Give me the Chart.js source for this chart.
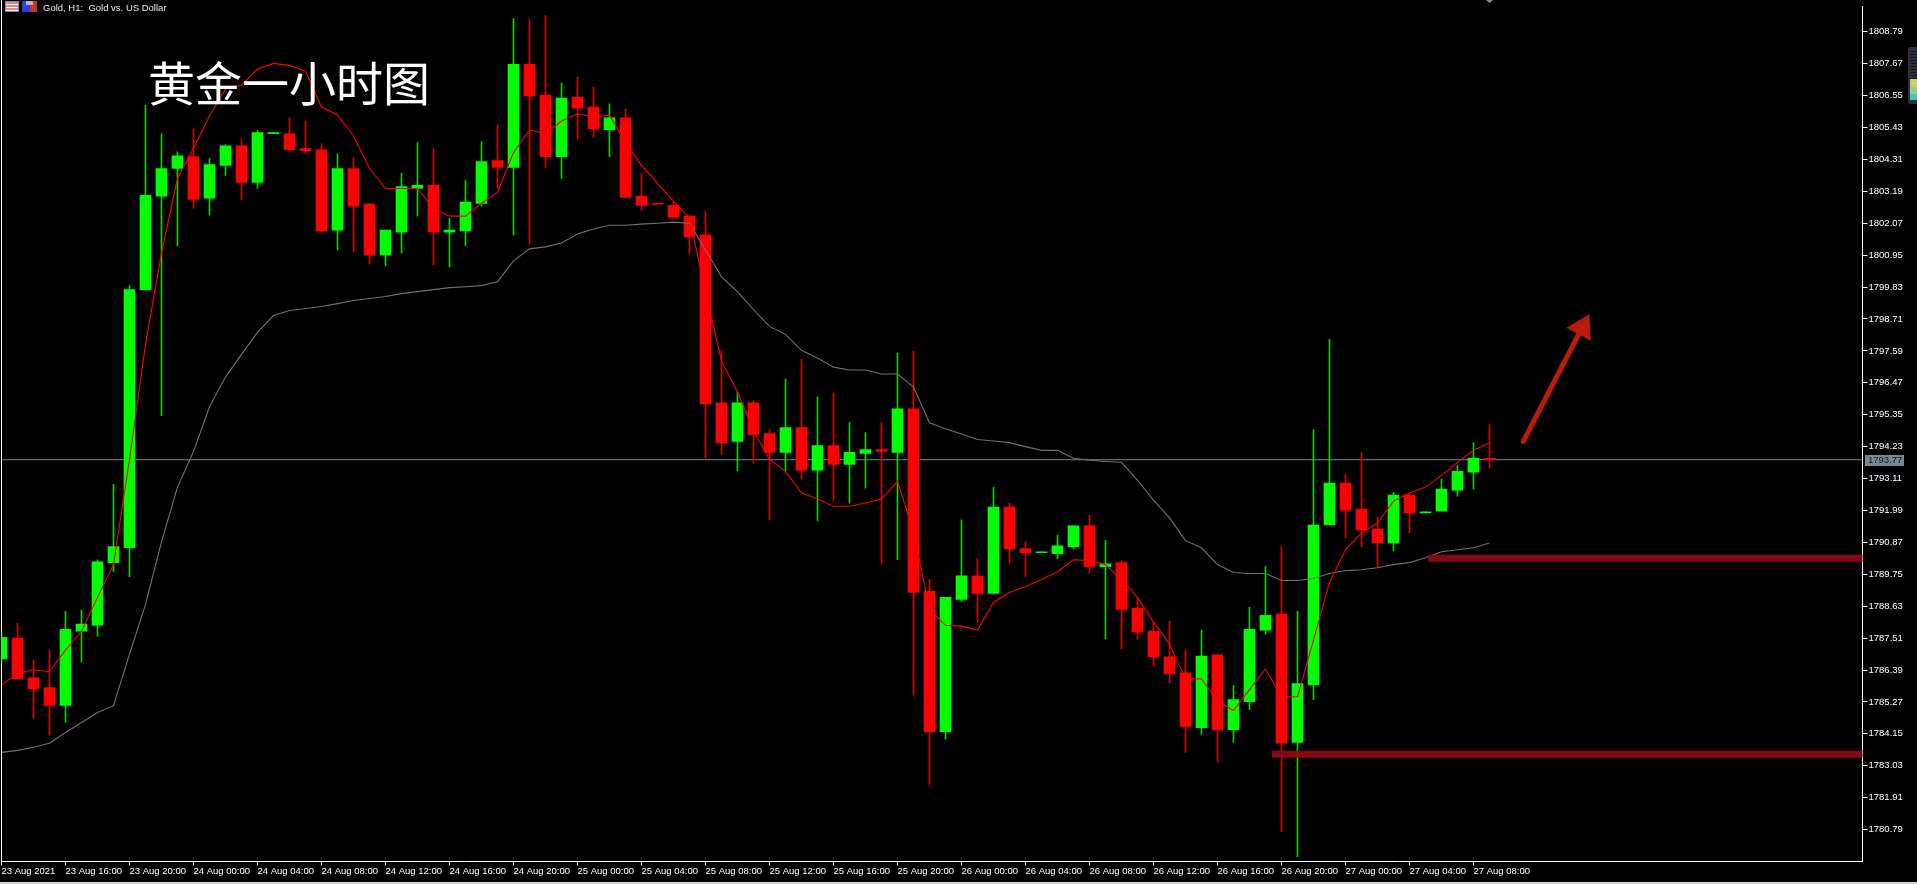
<!DOCTYPE html>
<html>
<head>
<meta charset="utf-8">
<title>Gold H1</title>
<script src="https://cdn.jsdelivr.net/npm/chart.js@4/dist/chart.umd.min.js"></script>
<style>
    html, body { margin: 0; padding: 0; background: #000; overflow: hidden; }
    #wrap { position: relative; width: 1917px; height: 884px; background: #000; }
    #chart { position: absolute; left: 0; top: 0; }
    #big-title { position: absolute; left: 148px; top: 48px; color: #fff; font: 47px/66px "Noto Sans CJK SC", sans-serif; white-space: nowrap; }
    #symbol { position: absolute; left: 43px; top: 2px; color: #e8e8e8; font: 9.5px/12px "Liberation Sans", sans-serif; white-space: pre; }
    .icon { position: absolute; top: 1px; width: 14px; height: 11px; }
    #icon-a { left: 5px; background: repeating-linear-gradient(#e08a80 0 2px, #f4f4f4 2px 3px); border: 1px solid #7d86c8; box-sizing: border-box; }
    #icon-b { left: 22px; width: 15px; background: linear-gradient(90deg, #2f3fd8 0 50%, #c8342c 50% 100%); }
    #icon-b:after { content: ""; position: absolute; left: 4px; top: 0; width: 7px; height: 4px; background: #b8b8b8; }
    #shift-mark { position: absolute; left: 1486px; top: 0; width: 7px; height: 3px; background: #8a8a8a; clip-path: polygon(0 0, 100% 0, 50% 100%); }
    #widget { position: absolute; left: 1908px; top: 47px; width: 9px; height: 57px; border-radius: 2px 0 0 2px; background: #2c303c; }
    #widget-levels { position: absolute; left: 2px; top: 4px; right: 0; height: 49px;
        background: repeating-linear-gradient(#15181f 0 1px, transparent 1px 3px); }
    #widget-meter { position: absolute; left: 2px; right: 0; top: 32px; height: 21px;
        background: linear-gradient(#c9cf6a 0 40%, #8fcf8a 40% 70%, #45c8b4 70% 100%); }
    #status-line { position: absolute; left: 0; right: 0; bottom: 0; height: 2px; background: #d4d4d4; }
</style>
</head>
<body>
<div id="wrap">
    <canvas id="chart" width="1917" height="882"></canvas>
    <div class="icon" id="icon-a"></div>
    <div class="icon" id="icon-b"></div>
    <div id="symbol">Gold, H1:  Gold vs. US Dollar</div>
    <div id="big-title">黄金一小时图</div>
    <div id="shift-mark"></div>
    <div id="widget"><div id="widget-levels"></div><div id="widget-meter"></div></div>
    <div id="status-line"></div>
</div>
<script>
const openPrices = [
    1786.78, 1787.51, 1786.12, 1785.77, 1785.15, 1787.75, 1787.96, 1790.16, 1790.68, 1799.74,
    1803.02, 1803.99, 1804.41, 1802.95, 1804.10, 1804.79, 1803.50, 1805.21, 1805.21, 1804.69,
    1804.65, 1801.83, 1803.99, 1802.74, 1800.96, 1801.76, 1803.29, 1803.40, 1801.76, 1801.80,
    1802.77, 1804.27, 1804.03, 1807.65, 1806.57, 1804.41, 1806.50, 1806.15, 1805.35, 1805.77,
    1803.02, 1802.77, 1802.70, 1802.32, 1801.66, 1795.77, 1794.41, 1795.77, 1794.69, 1794.03,
    1794.90, 1793.40, 1794.27, 1793.61, 1793.99, 1794.13, 1794.03, 1795.56, 1789.15, 1784.23,
    1788.87, 1789.70, 1789.08, 1792.11, 1790.65, 1790.51, 1790.47, 1790.72, 1791.45, 1790.02,
    1790.16, 1788.56, 1787.75, 1786.85, 1786.29, 1784.37, 1786.92, 1784.30, 1785.28, 1787.79,
    1788.35, 1783.85, 1785.87, 1791.48, 1792.95, 1792.04, 1791.34, 1790.85, 1792.53, 1791.90,
    1791.97, 1792.70, 1793.33, 1793.82
];
const highPrices = [
    1787.72, 1788.03, 1786.74, 1787.09, 1788.45, 1788.49, 1790.26, 1792.91, 1799.88, 1806.22,
    1805.21, 1804.58, 1805.38, 1804.34, 1804.83, 1805.04, 1805.32, 1805.25, 1805.77, 1805.66,
    1804.86, 1804.51, 1804.37, 1802.77, 1801.83, 1803.82, 1804.90, 1804.72, 1802.25, 1803.57,
    1804.93, 1805.52, 1809.25, 1809.22, 1809.36, 1806.99, 1807.20, 1806.85, 1806.26, 1806.08,
    1803.82, 1802.77, 1802.84, 1802.32, 1802.49, 1797.61, 1796.15, 1795.84, 1794.83, 1796.60,
    1797.30, 1795.98, 1796.12, 1795.07, 1794.72, 1795.07, 1797.51, 1797.58, 1789.57, 1788.94,
    1791.66, 1790.30, 1792.81, 1792.25, 1790.89, 1790.54, 1791.13, 1791.45, 1791.83, 1790.93,
    1790.23, 1788.94, 1788.07, 1788.10, 1787.09, 1787.79, 1786.92, 1785.84, 1788.59, 1790.02,
    1790.72, 1788.45, 1794.83, 1798.00, 1793.26, 1794.03, 1791.76, 1792.63, 1792.56, 1791.94,
    1793.09, 1793.57, 1794.37, 1795.00
];
const lowPrices = [
    1786.60, 1786.08, 1784.69, 1784.10, 1784.55, 1786.67, 1787.58, 1789.84, 1789.67, 1799.71,
    1795.32, 1801.27, 1802.60, 1802.35, 1803.75, 1802.88, 1803.29, 1805.21, 1804.62, 1804.51,
    1801.76, 1801.13, 1801.06, 1800.65, 1800.58, 1801.03, 1802.32, 1800.61, 1800.54, 1801.27,
    1802.67, 1803.33, 1801.66, 1801.34, 1804.03, 1803.64, 1805.00, 1805.07, 1804.41, 1802.98,
    1802.53, 1802.74, 1802.21, 1800.99, 1793.83, 1793.96, 1793.38, 1793.64, 1791.66, 1793.36,
    1793.09, 1791.62, 1792.32, 1792.25, 1792.77, 1790.12, 1790.26, 1785.52, 1782.35, 1783.96,
    1788.80, 1788.07, 1789.08, 1790.12, 1789.67, 1790.51, 1790.30, 1790.65, 1789.81, 1787.48,
    1787.13, 1787.48, 1786.53, 1785.94, 1783.50, 1784.13, 1783.15, 1783.85, 1785.00, 1787.65,
    1780.72, 1779.84, 1785.35, 1791.48, 1791.03, 1790.72, 1790.02, 1790.58, 1791.20, 1791.90,
    1791.97, 1792.49, 1792.74, 1793.47
];
const closePrices = [
    1787.54, 1786.08, 1785.73, 1785.15, 1787.82, 1788.00, 1790.19, 1790.72, 1799.74, 1803.05,
    1803.99, 1804.44, 1802.91, 1804.13, 1804.79, 1803.50, 1805.25, 1805.25, 1804.65, 1804.62,
    1801.80, 1803.99, 1802.67, 1800.96, 1801.83, 1803.36, 1803.40, 1801.76, 1801.83, 1802.81,
    1804.23, 1804.03, 1807.65, 1806.53, 1804.41, 1806.46, 1806.12, 1805.38, 1805.77, 1802.98,
    1802.70, 1802.74, 1802.28, 1801.59, 1795.73, 1794.37, 1795.77, 1794.65, 1794.03, 1794.90,
    1793.40, 1794.27, 1793.61, 1794.03, 1794.13, 1794.06, 1795.56, 1789.11, 1784.23, 1788.94,
    1789.70, 1789.08, 1792.11, 1790.65, 1790.51, 1790.54, 1790.75, 1791.45, 1790.02, 1790.12,
    1788.52, 1787.72, 1786.85, 1786.26, 1784.41, 1786.88, 1784.30, 1785.35, 1787.82, 1788.31,
    1783.82, 1785.91, 1791.48, 1792.95, 1792.00, 1791.31, 1790.85, 1792.53, 1791.90, 1791.94,
    1792.74, 1793.36, 1793.82, 1793.77
];
const fastMa = [
    1785.87, 1786.26, 1786.40, 1786.33, 1787.09, 1787.75, 1788.94, 1790.09, 1793.78, 1797.82,
    1801.03, 1803.64, 1804.69, 1805.84, 1806.78, 1806.92, 1807.48, 1807.68, 1807.61, 1807.41,
    1806.15, 1805.87, 1805.14, 1803.99, 1803.29, 1803.29, 1803.29, 1802.60, 1802.32, 1802.32,
    1802.77, 1803.15, 1804.55, 1805.35, 1805.21, 1805.66, 1805.91, 1805.80, 1805.87, 1804.90,
    1804.10, 1803.47, 1802.84, 1802.25, 1799.67, 1797.23, 1796.15, 1794.79, 1793.78, 1793.36,
    1792.60, 1792.39, 1792.14, 1792.14, 1792.25, 1792.39, 1793.01, 1791.24, 1788.52, 1787.96,
    1787.93, 1787.79, 1788.76, 1789.11, 1789.32, 1789.57, 1789.84, 1790.26, 1790.23, 1790.09,
    1789.57, 1788.94, 1788.07, 1787.30, 1786.08, 1786.08, 1785.31, 1784.97, 1785.70, 1786.43,
    1785.45, 1785.45, 1787.44, 1789.46, 1790.61, 1791.20, 1791.55, 1792.32, 1792.60, 1792.81,
    1793.22, 1793.68, 1794.10, 1794.37
];
const slowMa = [
    1783.50, 1783.57, 1783.68, 1783.82, 1784.20, 1784.55, 1784.90, 1785.14, 1786.95, 1788.69,
    1790.89, 1792.81, 1794.06, 1795.63, 1796.67, 1797.47, 1798.24, 1798.83, 1799.01, 1799.08,
    1799.15, 1799.25, 1799.36, 1799.43, 1799.50, 1799.60, 1799.67, 1799.74, 1799.81, 1799.84,
    1799.88, 1800.02, 1800.75, 1801.17, 1801.24, 1801.38, 1801.69, 1801.87, 1802.00, 1802.00,
    1802.04, 1802.07, 1802.11, 1802.07, 1801.13, 1800.19, 1799.67, 1799.04, 1798.45, 1798.17,
    1797.61, 1797.34, 1797.02, 1796.92, 1796.92, 1796.78, 1796.78, 1796.32, 1795.07, 1794.86,
    1794.67, 1794.48, 1794.43, 1794.37, 1794.23, 1794.10, 1794.10, 1793.82, 1793.75, 1793.71,
    1793.68, 1793.05, 1792.35, 1791.73, 1790.93, 1790.68, 1790.09, 1789.81, 1789.78, 1789.78,
    1789.53, 1789.53, 1789.60, 1789.78, 1789.88, 1789.91, 1789.98, 1790.09, 1790.16, 1790.33,
    1790.54, 1790.61, 1790.68, 1790.85
];
const xTickLabels = [
    '23 Aug 2021', '23 Aug 16:00', '23 Aug 20:00', '24 Aug 00:00', '24 Aug 04:00', '24 Aug 08:00',
    '24 Aug 12:00', '24 Aug 16:00', '24 Aug 20:00', '25 Aug 00:00', '25 Aug 04:00', '25 Aug 08:00',
    '25 Aug 12:00', '25 Aug 16:00', '25 Aug 20:00', '26 Aug 00:00', '26 Aug 04:00', '26 Aug 08:00',
    '26 Aug 12:00', '26 Aug 16:00', '26 Aug 20:00', '27 Aug 00:00', '27 Aug 04:00', '27 Aug 08:00'
];
const yTickValues = [
    1808.79, 1807.67, 1806.55, 1805.43, 1804.31, 1803.19, 1802.07, 1800.95, 1799.83, 1798.71,
    1797.59, 1796.47, 1795.35, 1794.23, 1793.11, 1791.99, 1790.87, 1789.75, 1788.63, 1787.51,
    1786.39, 1785.27, 1784.15, 1783.03, 1781.91, 1780.79
];
const lastPrice = 1793.77;
const upperLevel = [{ x: 89.16, y: 1790.31 }, { x: 117, y: 1790.31 }];
const lowerLevel = [{ x: 79.4, y: 1783.43 }, { x: 117, y: 1783.43 }];
const arrowShaft = [{ x: 95.11, y: 1794.41 }, { x: 98.6, y: 1798.2 }];
const arrowHead = [
    { x: 99.24, y: 1798.86 }, { x: 97.86, y: 1798.40 }, { x: 98.55, y: 1798.2 }, { x: 99.33, y: 1797.96 }
];

const RED = '#ff0000';
const GREEN = '#00ff00';
const xMax = 116.3125;
const priceMin = 1779.67;
const priceMax = 1809.67;
const axisFont = { family: '"Liberation Sans", sans-serif', size: 9.5 };

const isUp = (i) => closePrices[i] >= openPrices[i];
const bodies = openPrices.map((o, i) => ({ x: i, y: [o, closePrices[i]] }));
const wicks = highPrices.map((h, i) => ({ x: i, y: [lowPrices[i], h] }));

const blackBackground = {
    id: 'blackBackground',
    beforeDraw(chart) {
        const { ctx, chartArea, width, height } = chart;
        ctx.save();
        ctx.fillStyle = '#000';
        ctx.fillRect(0, 0, width, height);
        ctx.fillStyle = '#fff';
        ctx.fillRect(1, 0, 1, chartArea.bottom);
        ctx.restore();
    }
};

const lastPriceTag = {
    id: 'lastPriceTag',
    afterDraw(chart) {
        const { ctx } = chart;
        const y = chart.scales.y.getPixelForValue(lastPrice);
        ctx.save();
        ctx.fillStyle = '#778899';
        ctx.fillRect(1865, Math.round(y) - 5, 39, 11);
        ctx.fillStyle = '#10141a';
        ctx.font = '9.5px "Liberation Sans", sans-serif';
        ctx.textBaseline = 'middle';
        ctx.fillText(lastPrice.toFixed(2), 1868, y + 0.5);
        ctx.restore();
    }
};

new Chart(document.getElementById('chart'), {
    type: 'bar',
    data: {
        datasets: [
            {
                type: 'line', data: [{ x: 0, y: lastPrice }, { x: xMax, y: lastPrice }],
                borderColor: '#778899', borderWidth: 1, pointRadius: 0, order: 9
            },
            {
                data: wicks, grouped: false, barThickness: 1, order: 8, borderWidth: 0,
                backgroundColor: wicks.map((w, i) => (isUp(i) ? '#00d800' : '#d80000'))
            },
            {
                data: bodies, grouped: false, barThickness: 11, order: 7, borderWidth: 0,
                backgroundColor: bodies.map((b, i) => (isUp(i) ? GREEN : RED))
            },
            {
                type: 'line', data: slowMa.map((v, i) => ({ x: i, y: v })),
                borderColor: '#707070', borderWidth: 1.1, pointRadius: 0, tension: 0, order: 6
            },
            {
                type: 'line', data: fastMa.map((v, i) => ({ x: i, y: v })),
                borderColor: RED, borderWidth: 1.1, pointRadius: 0, tension: 0, order: 5
            },
            {
                type: 'line', data: upperLevel, borderColor: 'rgba(139, 8, 18, 0.95)',
                borderWidth: 7, pointRadius: 0, order: 4
            },
            {
                type: 'line', data: lowerLevel, borderColor: 'rgba(139, 8, 18, 0.95)',
                borderWidth: 7, pointRadius: 0, order: 3
            },
            {
                type: 'line', data: arrowShaft, borderColor: '#b81c0c', borderWidth: 5,
                borderCapStyle: 'round', pointRadius: 0, order: 2
            },
            {
                type: 'line', data: arrowHead, borderColor: '#b81c0c', backgroundColor: '#b81c0c',
                borderWidth: 1, pointRadius: 0, fill: 'shape', order: 1
            }
        ]
    },
    options: {
        responsive: false,
        animation: false,
        parsing: undefined,
        layout: { padding: { left: 1.5, top: 0, right: 0, bottom: 0 } },
        plugins: { legend: { display: false }, tooltip: { enabled: false } },
        scales: {
            x: {
                type: 'linear', min: 0, max: xMax, offset: false,
                afterFit: (scale) => { scale.height = 882 - 861.5; },
                afterBuildTicks: (scale) => {
                    scale.ticks = xTickLabels.map((label, i) => ({ value: i * 4, label }));
                },
                border: { color: '#fff', width: 1 },
                grid: { display: true, drawOnChartArea: false, tickLength: 4, tickColor: '#fff', offset: false },
                ticks: {
                    color: '#fff', font: axisFont, align: 'start', padding: 0, maxRotation: 0,
                    autoSkip: false, callback: (v, i) => xTickLabels[i]
                }
            },
            y: {
                type: 'linear', position: 'right', min: priceMin, max: priceMax,
                afterFit: (scale) => { scale.width = 1917 - 1862.5; },
                afterBuildTicks: (scale) => {
                    scale.ticks = yTickValues.map((value) => ({ value }));
                },
                border: { color: '#fff', width: 1 },
                grid: { display: true, drawOnChartArea: false, tickLength: 5, tickColor: '#fff' },
                ticks: {
                    color: '#fff', font: axisFont, padding: 1, autoSkip: false,
                    callback: (v) => v.toFixed(2)
                }
            }
        }
    },
    plugins: [blackBackground, lastPriceTag]
});
</script>
</body>
</html>
